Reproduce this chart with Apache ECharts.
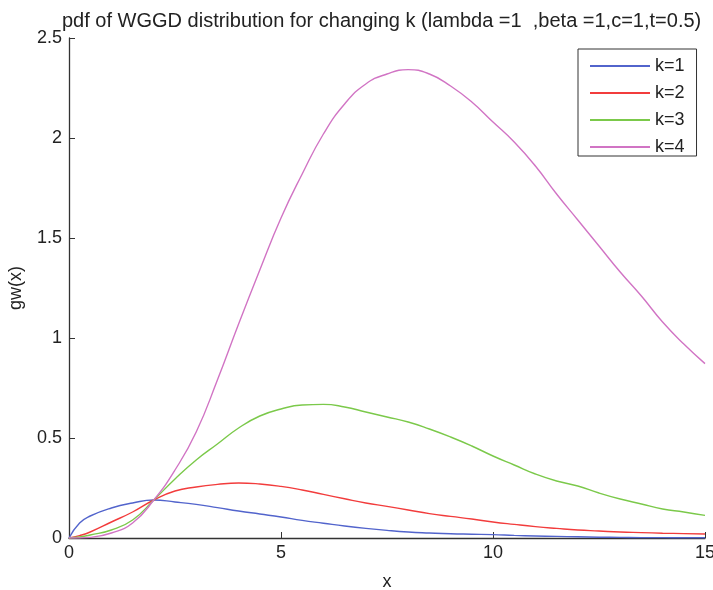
<!DOCTYPE html>
<html>
<head>
<meta charset="utf-8">
<script src="https://cdn.jsdelivr.net/npm/echarts@6/dist/echarts.min.js"></script>
<style>
html,body{margin:0;padding:0;background:#fff;}
#chart{width:713px;height:590px;}
</style>
</head>
<body>
<div id="chart"></div>
<script>
const xs = [0,0.25,0.5,1,1.5,2,2.5,3,3.5,4,4.5,5,5.5,6,6.5,7,7.5,8,8.5,9,9.5,10,10.5,11,11.5,12,12.5,13,13.5,14,14.5,15];
const k1 = [0,0.075,0.11,0.15,0.175,0.19,0.18,0.168,0.152,0.135,0.12,0.105,0.088,0.074,0.06,0.048,0.038,0.03,0.025,0.021,0.019,0.017,0.013,0.01,0.008,0.006,0.004,0.003,0.002,0.002,0.001,0.001];
const k2 = [0,0.012,0.03,0.08,0.13,0.19,0.235,0.255,0.268,0.275,0.27,0.258,0.24,0.218,0.196,0.175,0.158,0.14,0.122,0.108,0.095,0.08,0.068,0.057,0.048,0.04,0.035,0.03,0.027,0.024,0.022,0.02];
const k3 = [0,0.005,0.015,0.04,0.09,0.19,0.295,0.39,0.47,0.55,0.61,0.645,0.665,0.668,0.655,0.63,0.605,0.58,0.545,0.505,0.46,0.41,0.365,0.32,0.285,0.26,0.225,0.195,0.17,0.145,0.13,0.113];
const k4 = [0,0.0003,0.003,0.025,0.075,0.19,0.34,0.53,0.79,1.07,1.34,1.6,1.82,2.02,2.17,2.27,2.32,2.342,2.32,2.26,2.18,2.08,1.98,1.86,1.72,1.59,1.46,1.33,1.21,1.08,0.97,0.872];
const seriesNames = ['k=1','k=2','k=3','k=4'];
const seriesValues = [k1,k2,k3,k4];
const colors = ['#5264cc','#f23c3c','#7bc94a','#d174c4'];
const yTicks = [0,0.5,1,1.5,2,2.5];
const xTicks = [0,5,10,15];

const FONT = 'Liberation Sans, Arial, sans-serif';
const chart = echarts.init(document.getElementById('chart'));
chart.setOption({
  backgroundColor:'#fff',
  animation:false,
  title:{
    text:'pdf of WGGD distribution for changing k (lambda =1  ,beta =1,c=1,t=0.5)',
    left:57, top:6,
    textStyle:{fontFamily:FONT,fontSize:20,fontWeight:'normal',color:'#222'}
  },
  legend:{
    orient:'vertical',
    left:578, top:49,
    data:seriesNames,
    icon:'rect',
    itemWidth:60, itemHeight:2,
    itemGap:9,
    padding:[8,12,0,12],
    borderColor:'#333', borderWidth:1,
    backgroundColor:'#fff',
    textStyle:{fontFamily:FONT,fontSize:18,color:'#222',lineHeight:18}
  },
  grid:{left:69,right:8,top:38,bottom:52,containLabel:false,outerBoundsMode:'none'},
  xAxis:{
    type:'value',min:xTicks[0],max:xTicks[xTicks.length-1],interval:5,
    name:'x',nameLocation:'middle',nameGap:35,
    nameTextStyle:{fontFamily:FONT,fontSize:18,color:'#222'},
    axisLine:{lineStyle:{color:'#333',width:1.3}},
    axisTick:{inside:true,length:6,lineStyle:{color:'#333'}},
    axisLabel:{fontFamily:FONT,fontSize:18,color:'#222',margin:6},
    splitLine:{show:false}
  },
  yAxis:{
    type:'value',min:yTicks[0],max:yTicks[yTicks.length-1],interval:0.5,
    name:'gw(x)',nameLocation:'middle',nameGap:44,
    nameTextStyle:{fontFamily:FONT,fontSize:18,color:'#222'},
    axisLine:{show:true,lineStyle:{color:'#333',width:1.3}},
    axisTick:{show:true,inside:true,length:6,lineStyle:{color:'#333'}},
    axisLabel:{fontFamily:FONT,fontSize:18,color:'#222',margin:7},
    splitLine:{show:false}
  },
  series: seriesNames.map((n,i)=>({
    name:n,type:'line',smooth:true,showSymbol:false,
    data: xs.map((x,j)=>[x,seriesValues[i][j]]),
    lineStyle:{color:colors[i],width:1.4},
    itemStyle:{color:colors[i]}
  }))
});
</script>
</body>
</html>
